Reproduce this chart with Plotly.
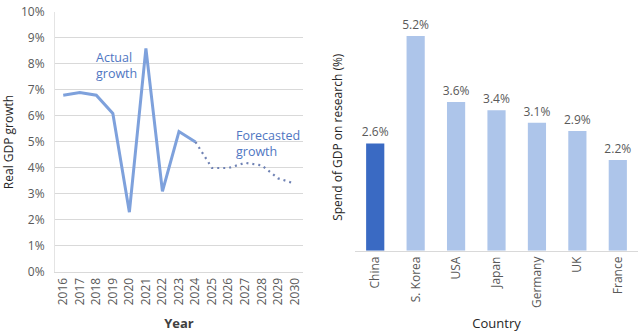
import plotly.graph_objects as go

# GDP growth (%), actual and forecast
years_actual = [2016, 2017, 2018, 2019, 2020, 2021, 2022, 2023, 2024]
growth_actual = [6.8, 6.9, 6.8, 6.1, 2.3, 8.6, 3.1, 5.4, 5.0]
years_forecast = [2024, 2025, 2026, 2027, 2028, 2029, 2030]
growth_forecast = [5.0, 4.0, 4.0, 4.2, 4.1, 3.6, 3.4]

# R&D spend as share of GDP (%)
countries = ["China", "S. Korea", "USA", "Japan", "Germany", "UK", "France"]
rd_spend = [2.6, 5.2, 3.6, 3.4, 3.1, 2.9, 2.2]
bar_labels = ["2.6%", "5.2%", "3.6%", "3.4%", "3.1%", "2.9%", "2.2%"]

FONT = "Open Sans, Noto Sans, sans-serif"
TICK_GRAY = "#595959"
LINE_BLUE = "#7EA1DC"
DOT_BLUE = "#6F82B4"
TEXT_BLUE = "#4F76C2"
bar_colors = ["#3A6AC3"] + ["#ADC5EA"] * (len(countries) - 1)

fig = go.Figure()

fig.add_trace(go.Scatter(
    x=years_actual, y=growth_actual, mode="lines",
    line=dict(color=LINE_BLUE, width=3), xaxis="x", yaxis="y",
    showlegend=False, hoverinfo="skip"))
fig.add_trace(go.Scatter(
    x=years_forecast, y=growth_forecast, mode="lines",
    line=dict(color=DOT_BLUE, width=2.2, dash="2px,4px"), xaxis="x", yaxis="y",
    showlegend=False, hoverinfo="skip"))

fig.add_trace(go.Bar(
    x=countries, y=rd_spend, marker=dict(color=bar_colors, line=dict(width=0)),
    text=bar_labels, textposition="outside", cliponaxis=False,
    constraintext="none", textangle=0,
    textfont=dict(family=FONT, size=12, color=TICK_GRAY),
    xaxis="x2", yaxis="y2", showlegend=False, hoverinfo="skip"))

fig.update_layout(
    width=640, height=333,
    margin=dict(l=0, r=0, t=0, b=0),
    paper_bgcolor="white", plot_bgcolor="white",
    font=dict(family=FONT, size=12, color=TICK_GRAY),
    bargap=0.55,
    xaxis=dict(
        domain=[0.0859, 0.4734], range=[2015.5, 2030.5], automargin=False,
        tickmode="array", tickvals=list(range(2016, 2031)),
        ticktext=[str(y) for y in range(2016, 2031)],
        tickangle=-90, showgrid=False, zeroline=False,
        showline=True, linecolor="#D9D9D9", linewidth=1,
        ticks="", tickfont=dict(size=12, color=TICK_GRAY),
        title=dict(text="<b>Year</b>", font=dict(size=13, color="#404040"), standoff=14),
    ),
    yaxis=dict(
        domain=[0.1832, 0.964], range=[0, 10], automargin=False,
        tickmode="array", tickvals=list(range(0, 11)),
        ticktext=[f"{v}%" for v in range(0, 11)],
        showgrid=True, gridcolor="#D9D9D9", gridwidth=1, zeroline=False,
        showline=True, linecolor="#E4E4E4", linewidth=1,
        ticks="", ticklabelstandoff=7,
        tickfont=dict(size=12, color=TICK_GRAY),
        title=dict(text="Real GDP growth", font=dict(size=12, color="#262626"), standoff=8),
    ),
    xaxis2=dict(
        domain=[0.5547, 0.9969], anchor="y2", automargin=False,
        tickangle=-90, showgrid=False, zeroline=False,
        showline=True, linecolor="#D9D9D9", linewidth=1,
        ticks="", tickfont=dict(size=12, color=TICK_GRAY),
        title=dict(text="Country", font=dict(size=13, color="#262626"), standoff=11),
    ),
    yaxis2=dict(
        domain=[0.247, 0.929], range=[0, 5.5], anchor="x2", automargin=False,
        showgrid=False, zeroline=False, showline=False,
        showticklabels=False, ticks="",
        title=dict(text="Spend of GDP on research (%)",
                   font=dict(size=12, color="#262626"), standoff=8),
    ),
    annotations=[
        dict(text="Actual<br>growth", x=2019.25, y=7.95, xref="x", yref="y",
             showarrow=False, align="left", xanchor="center",
             font=dict(family=FONT, size=12.5, color=TEXT_BLUE)),
        dict(text="Forecasted<br>growth", x=2028.4, y=4.95, xref="x", yref="y",
             showarrow=False, align="left", xanchor="center",
             font=dict(family=FONT, size=12.5, color=TEXT_BLUE)),
    ],
)

fig.write_html("out.html")
